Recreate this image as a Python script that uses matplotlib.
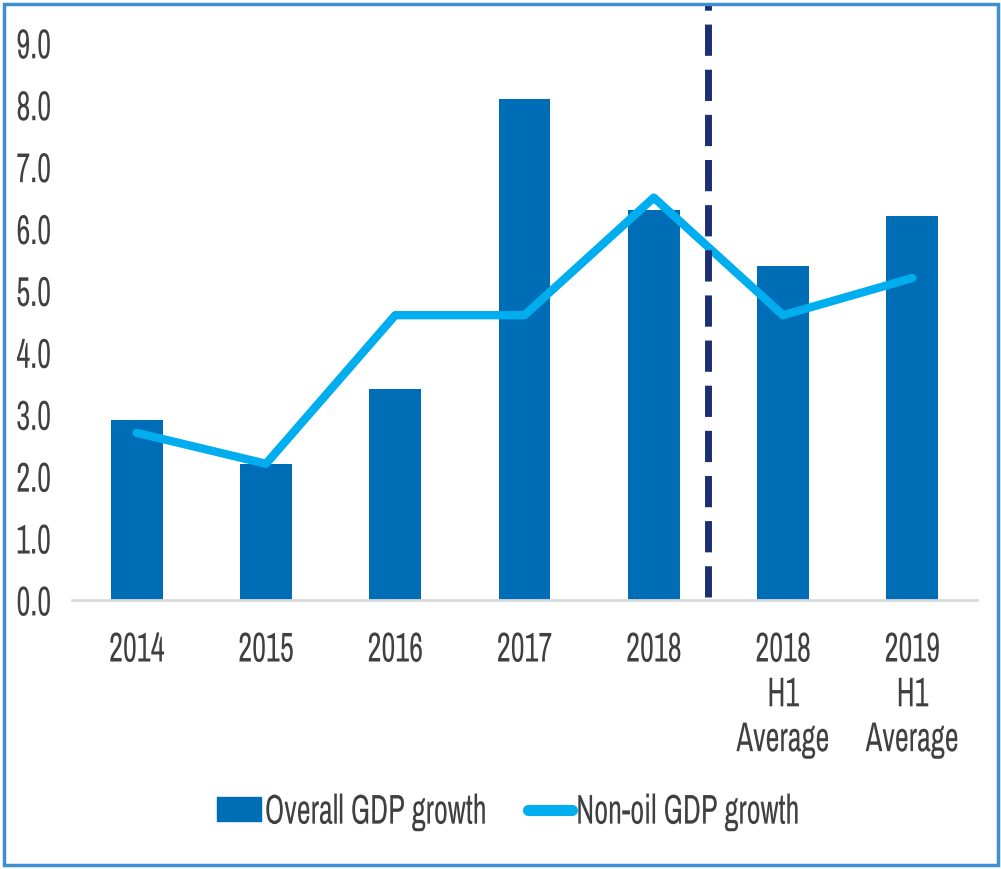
import matplotlib
matplotlib.use('Agg')
import matplotlib.pyplot as plt
from matplotlib.patches import Rectangle, Patch
from matplotlib.lines import Line2D
from matplotlib.transforms import Affine2D
from matplotlib import patheffects

categories = ['2014', '2015', '2016', '2017', '2018', '2018\nH1\nAverage', '2019\nH1\nAverage']
overall_gdp = [2.9, 2.2, 3.4, 8.1, 6.3, 5.4, 6.2]
non_oil_gdp = [2.7, 2.2, 4.6, 4.6, 6.5, 4.6, 5.2]
yticks = [0, 1, 2, 3, 4, 5, 6, 7, 8, 9]

bar_col = '#006EB6'
line_col = '#00AEEF'
dash_col = '#1B2F72'
txt_col = '#404040'


# the source picture is squashed sideways, so squeeze glyphs horizontally
class Squeeze(patheffects.AbstractPathEffect):
    def __init__(self, sx, anchor='center'):
        super().__init__()
        self.sx = sx
        self.anchor = anchor

    def draw_path(self, renderer, gc, tpath, affine, rgbFace=None):
        ext = tpath.get_extents(affine)
        if self.anchor == 'right':
            x0 = ext.x1
        elif self.anchor == 'left':
            x0 = ext.x0
        else:
            x0 = (ext.x0 + ext.x1) / 2
        t = affine + Affine2D().translate(-x0, 0).scale(self.sx, 1).translate(x0, 0)
        renderer.draw_path(gc, tpath, t, rgbFace)


plt.rcParams['font.family'] = ['Archivo Narrow', 'DejaVu Sans']
fs = 30
sq = 0.73

fig = plt.figure(figsize=(10.01, 8.69), dpi=100)
ax = fig.add_axes([0.072, 0.3096, 0.904, 0.6846])

x = list(range(len(categories)))
ax.bar(x, overall_gdp, width=0.4, color=bar_col, zorder=2)
ax.plot(x, non_oil_gdp, color=line_col, lw=6, solid_capstyle='round', zorder=3)
ax.axvline(4.42, ymin=0.005, ymax=1, color=dash_col, lw=5, dashes=(4.5, 2), zorder=4)

ax.set_xlim(-0.5, 6.5)
ax.set_ylim(0, 9.61)
ax.set_yticks(yticks)
ax.set_yticklabels(['%.1f' % v for v in yticks])
ax.set_xticks(x)
ax.set_xticklabels(categories, linespacing=1.22, va='top')

for s in ['top', 'right', 'left']:
    ax.spines[s].set_visible(False)
ax.spines['bottom'].set_color('#D9D9D9')
ax.spines['bottom'].set_linewidth(2)
ax.tick_params(axis='both', length=0, labelsize=fs, labelcolor=txt_col)
ax.tick_params(axis='y', pad=15)
ax.tick_params(axis='x', pad=22)

for t in ax.get_yticklabels():
    t.set_path_effects([Squeeze(sq, 'right')])
for t in ax.get_xticklabels():
    t.set_path_effects([Squeeze(sq, 'center')])

handles = [Patch(color=bar_col, label='Overall GDP growth'),
           Line2D([0], [0], color=line_col, lw=8, solid_capstyle='round', label='Non-oil GDP growth')]
leg = fig.legend(handles=handles, loc='center left', bbox_to_anchor=(0.217, 0.066), ncol=2,
                 frameon=False, fontsize=fs, handlelength=1.05, handleheight=0.5,
                 handletextpad=0.08, columnspacing=-0.95, borderpad=0, borderaxespad=0,
                 labelcolor=txt_col)
for t in leg.get_texts():
    t.set_path_effects([Squeeze(sq, 'left')])

fig.patches.append(Rectangle((0.004, 0.005), 0.993, 0.99, transform=fig.transFigure,
                             fill=False, edgecolor='#3F8FD2', lw=2.5))

fig.savefig('out.png', dpi=100)
